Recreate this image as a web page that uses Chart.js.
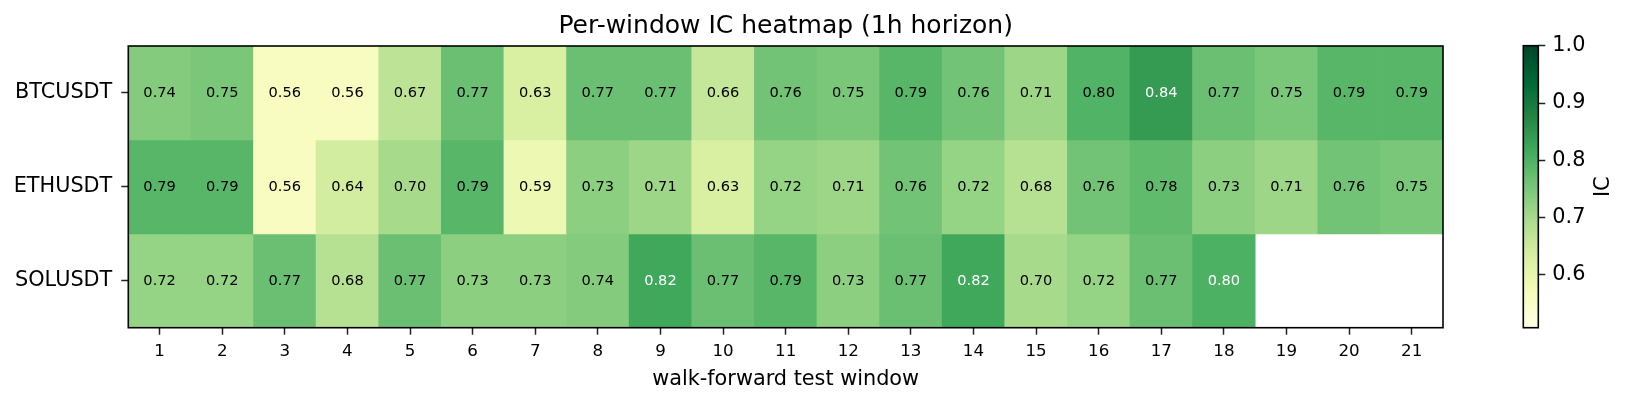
<!DOCTYPE html>
<html>
<head>
<meta charset="utf-8">
<title>Per-window IC heatmap (1h horizon)</title>
<script src="https://cdn.jsdelivr.net/npm/chart.js@4.4.1/dist/chart.umd.min.js"></script>
<style>
  html, body { margin: 0; padding: 0; background: #fff; }
  #wrap { position: relative; width: 1629px; height: 404px; }
  #heat { position: absolute; left: 0; top: 0; }
  #cbar { position: absolute; left: 1480px; top: 0; }
</style>
</head>
<body>
<div id="wrap">
  <canvas id="heat" width="1629" height="404"></canvas>
  <canvas id="cbar" width="149" height="404"></canvas>
</div>
<script>
// data (0.798 / 0.802: both print as 0.80, text colour tells them apart)
const windows = ['1','2','3','4','5','6','7','8','9','10','11','12','13','14','15','16','17','18','19','20','21'];
const symbols = ['BTCUSDT', 'ETHUSDT', 'SOLUSDT'];
const btcIC = [0.74,0.75,0.56,0.56,0.67,0.77,0.63,0.77,0.77,0.66,0.76,0.75,0.79,0.76,0.71,0.798,0.84,0.77,0.75,0.79,0.79];
const ethIC = [0.79,0.79,0.56,0.64,0.70,0.79,0.59,0.73,0.71,0.63,0.72,0.71,0.76,0.72,0.68,0.76,0.78,0.73,0.71,0.76,0.75];
const solIC = [0.72,0.72,0.77,0.68,0.77,0.73,0.73,0.74,0.82,0.77,0.79,0.73,0.77,0.82,0.70,0.72,0.77,0.802,null,null,null];
const cbarTicks = [0.6, 0.7, 0.8, 0.9, 1.0];
const icMin = 0.508;
const icMax = 1.0;

// YlGn colormap
const ylgn = ['#ffffe5','#f7fcb9','#d9f0a3','#addd8e','#78c679','#41ab5d','#238443','#006837','#004529'];

function hex2rgb(h) {
  return [parseInt(h.slice(1,3),16), parseInt(h.slice(3,5),16), parseInt(h.slice(5,7),16)];
}
function icColor(v) {
  let t = (v - icMin) / (icMax - icMin);
  t = Math.min(1, Math.max(0, t));
  const p = t * 8;
  const i = Math.min(7, Math.floor(p));
  const f = p - i;
  const a = hex2rgb(ylgn[i]), b = hex2rgb(ylgn[i+1]);
  return 'rgb(' + Math.round(a[0]+(b[0]-a[0])*f) + ',' + Math.round(a[1]+(b[1]-a[1])*f) + ',' + Math.round(a[2]+(b[2]-a[2])*f) + ')';
}

Chart.defaults.font.family = "'DejaVu Sans', sans-serif";
Chart.defaults.color = '#000';

const frame = {
  id: 'frame',
  afterDraw(chart) {
    const a = chart.chartArea, c = chart.ctx;
    c.save();
    c.strokeStyle = '#000';
    c.lineWidth = 1.6;
    c.strokeRect(a.left, a.top, a.right - a.left, a.bottom - a.top);
    c.restore();
  }
};

// numbers in the cells
const cellText = {
  id: 'cellText',
  afterDatasetsDraw(chart) {
    const c = chart.ctx;
    c.save();
    c.font = "14.6px 'DejaVu Sans'";
    c.textAlign = 'center';
    c.textBaseline = 'middle';
    chart.data.datasets.forEach(function(ds, r) {
      chart.getDatasetMeta(r).data.forEach(function(bar, i) {
        const v = ds.ic[i];
        if (v == null) return;
        c.fillStyle = v > 0.8 ? '#fff' : '#000';
        c.fillText(v.toFixed(2), bar.x, (bar.y + bar.base) / 2);
      });
    });
    c.restore();
  }
};

const rows = [btcIC, ethIC, solIC];
const datasets = rows.map(function(vals, r) {
  return {
    label: symbols[r],
    ic: vals,
    data: vals.map(v => v == null ? null : [r - 0.5, r + 0.5]),
    backgroundColor: vals.map(v => v == null ? 'rgba(0,0,0,0)' : icColor(v)),
    borderWidth: 0,
    borderSkipped: false,
    barPercentage: 1,
    categoryPercentage: 1,
    grouped: false
  };
});

new Chart(document.getElementById('heat'), {
  type: 'bar',
  data: { labels: windows, datasets: datasets },
  options: {
    responsive: false,
    animation: false,
    events: [],
    layout: { padding: { left: 0, right: 186, top: 0, bottom: 0 } },
    plugins: {
      legend: { display: false },
      tooltip: { enabled: false },
      title: {
        display: true,
        fullSize: false,
        text: 'Per-window IC heatmap (1h horizon)',
        font: { size: 25, weight: 'normal' },
        color: '#000',
        padding: { top: 11, bottom: 5 }
      }
    },
    scales: {
      x: {
        type: 'category',
        grid: { drawOnChartArea: false, offset: false, tickLength: 7, tickWidth: 1.5, tickColor: '#222' },
        border: { display: false },
        ticks: { font: { size: 16.7 }, padding: 7, maxRotation: 0, autoSkip: false },
        title: { display: true, text: 'walk-forward test window', font: { size: 20.8 }, padding: { top: 0, bottom: 12 } },
        afterFit: function(s) { s.height = 76.3; }
      },
      y: {
        type: 'linear',
        min: -0.5,
        max: 2.5,
        reverse: true,
        afterBuildTicks: function(s) { s.ticks = symbols.map((n, i) => ({ value: i })); },
        grid: { drawOnChartArea: false, tickLength: 7, tickWidth: 1.5, tickColor: '#222' },
        border: { display: false },
        ticks: { font: { size: 20.8 }, padding: 9, callback: v => symbols[v] },
        afterFit: function(s) { s.width = 128.3; }
      }
    }
  },
  plugins: [cellText, frame]
});

// colorbar
const cbarLabel = {
  id: 'cbarLabel',
  afterDraw(chart) {
    const c = chart.ctx, a = chart.chartArea;
    c.save();
    c.translate(124, (a.top + a.bottom) / 2);
    c.rotate(-Math.PI / 2);
    c.font = "20.8px 'DejaVu Sans'";
    c.fillStyle = '#000';
    c.textAlign = 'center';
    c.textBaseline = 'middle';
    c.fillText('IC', 0, 0);
    c.restore();
  }
};

new Chart(document.getElementById('cbar'), {
  type: 'bar',
  data: {
    labels: ['IC'],
    datasets: [{
      data: [[icMin, icMax]],
      backgroundColor: function(ctx) {
        const chart = ctx.chart;
        if (!chart.chartArea) return null;
        const y = chart.scales.y;
        const g = chart.ctx.createLinearGradient(0, y.getPixelForValue(icMin), 0, y.getPixelForValue(icMax));
        ylgn.forEach((col, i) => g.addColorStop(i / 8, col));
        return g;
      },
      borderWidth: 0,
      borderSkipped: false,
      barPercentage: 1,
      categoryPercentage: 1
    }]
  },
  options: {
    responsive: false,
    animation: false,
    events: [],
    layout: { padding: { left: 43.3, right: 0, top: 45.7, bottom: 76.3 } },
    plugins: { legend: { display: false }, tooltip: { enabled: false } },
    scales: {
      x: { display: false },
      y: {
        position: 'right',
        min: icMin,
        max: icMax,
        afterBuildTicks: function(s) { s.ticks = cbarTicks.map(v => ({ value: v })); },
        grid: { drawOnChartArea: false, tickLength: 7, tickWidth: 1.5, tickColor: '#222' },
        border: { display: false },
        ticks: { font: { size: 20.8 }, padding: 7, callback: v => v.toFixed(1) },
        afterFit: function(s) { s.width = 90.7; }
      }
    }
  },
  plugins: [frame, cbarLabel]
});
</script>
</body>
</html>
